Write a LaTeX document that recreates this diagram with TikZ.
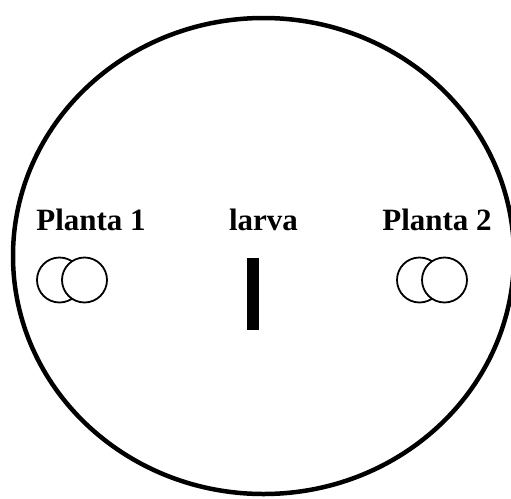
\documentclass[tikz,border=0pt]{standalone}
\usepackage{fontspec}
\setmainfont{Liberation Serif}
\usepackage{tikz}
\usetikzlibrary{positioning,shapes.geometric}
\tikzset{
  arena/dish/.style={draw, ellipse, line width=4.5pt, minimum width=501pt, minimum height=476pt, inner sep=0pt},
  arena/label/.style={font=\bfseries\fontsize{31}{31}\selectfont, anchor=base, inner sep=0pt},
  arena/pot/.style={draw, circle, fill=white, line width=1.8pt, minimum size=45pt, inner sep=0pt},
  arena/larva/.style={draw=none, fill=black, rectangle, minimum width=12pt, minimum height=72pt, inner sep=0pt}
}
\begin{document}
\begin{tikzpicture}[x=1pt, y=-1pt]
  \useasboundingbox (0,0) rectangle (511,498);
  \clip (0,0) rectangle (511,498);
  \node[arena/dish] (dish) at (263.5,256) {};

  \node[arena/label] (plant1) at (91,230) {Planta 1};
  \node[arena/label] (larvatext) at (263.5,230) {larva};
  \node[arena/label] (plant2) at (437,230) {Planta 2};

  % two overlapping pots per plant
  \node[arena/pot] (pot1a) at (59.5,280) {};
  \node[arena/pot] (pot1b) at (84.5,280) {};
  \node[arena/pot] (pot2a) at (419.5,280) {};
  \node[arena/pot] (pot2b) at (444.5,280) {};

  \node[arena/larva] (larva) at (253,294) {};
\end{tikzpicture}
\end{document}
